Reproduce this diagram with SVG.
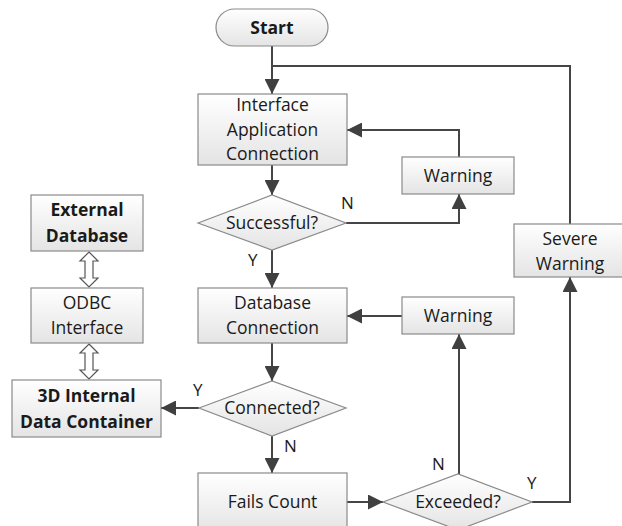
<svg xmlns="http://www.w3.org/2000/svg" width="622" height="526" viewBox="0 0 622 526">
  <defs>
    <linearGradient id="boxFill" x1="0" y1="0" x2="0" y2="1">
      <stop offset="0" stop-color="#ffffff"/>
      <stop offset="1" stop-color="#e4e4e4"/>
    </linearGradient>
    <marker id="arrow" viewBox="0 0 10 10" refX="10" refY="5" markerWidth="15" markerHeight="15" markerUnits="userSpaceOnUse" orient="auto">
      <path d="M0,0 L10,5 L0,10 z" fill="#404040"/>
    </marker>
    <style>
      .box { fill: url(#boxFill); stroke: #8a8a8a; stroke-width: 1.2; }
      .link { fill: none; stroke: #454545; stroke-width: 2; }
      .hollow { fill: #ffffff; stroke: #555555; stroke-width: 1.2; }
      text { font-family: "Open Sans", "Liberation Sans", sans-serif; font-size: 17.5px; fill: #1a1a1a; text-anchor: middle; }
      .b { font-weight: bold; }
      .lbl { text-anchor: start; font-size: 17px; }
    </style>
  </defs>

  <!-- connectors -->
  <g id="connectors">
    <path class="link" d="M272,46 V94" marker-end="url(#arrow)"/>
    <path class="link" d="M272,66 H570 V224"/>
    <path class="link" d="M272,165 V195" marker-end="url(#arrow)"/>
    <path class="link" d="M346,223 H459 V194" marker-end="url(#arrow)"/>
    <path class="link" d="M459,157 V130 H347" marker-end="url(#arrow)"/>
    <path class="link" d="M272,250 V288" marker-end="url(#arrow)"/>
    <path class="link" d="M402,316 H347" marker-end="url(#arrow)"/>
    <path class="link" d="M272,343 V381" marker-end="url(#arrow)"/>
    <path class="link" d="M199,408 H161" marker-end="url(#arrow)"/>
    <path class="link" d="M272,436 V473" marker-end="url(#arrow)"/>
    <path class="link" d="M347,502 H383" marker-end="url(#arrow)"/>
    <path class="link" d="M459,474 V334" marker-end="url(#arrow)"/>
    <path class="link" d="M532,502 H570 V277" marker-end="url(#arrow)"/>
    <!-- hollow two-way arrows in the database column -->
    <path class="hollow" d="M89,252 L98,261 L93,261 L93,278 L98,278 L89,287 L80,278 L85,278 L85,261 L80,261 Z"/>
    <path class="hollow" d="M89,344 L98,353 L93,353 L93,370 L98,370 L89,379 L80,370 L85,370 L85,353 L80,353 Z"/>
    <!-- branch labels -->
    <text class="lbl" x="341" y="209">N</text>
    <text class="lbl" x="248" y="266">Y</text>
    <text class="lbl" x="193" y="396">Y</text>
    <text class="lbl" x="284" y="452">N</text>
    <text class="lbl" x="432" y="470">N</text>
    <text class="lbl" x="527" y="489">Y</text>
  </g>

  <g id="start">
    <rect class="box" x="216" y="9" width="112" height="37" rx="18.5"/>
    <text class="b" x="272" y="34">Start</text>
  </g>

  <g id="interface-app">
    <rect class="box" x="198" y="94" width="149" height="71"/>
    <text x="272.5" y="111">Interface</text>
    <text x="272.5" y="136">Application</text>
    <text x="272.5" y="160">Connection</text>
  </g>

  <g id="warning-1">
    <rect class="box" x="402" y="157" width="112" height="37"/>
    <text x="458" y="182">Warning</text>
  </g>

  <g id="successful">
    <polygon class="box" points="198,223 272,195 346,223 272,250"/>
    <text x="272" y="229">Successful?</text>
  </g>

  <g id="severe-warning">
    <rect class="box" x="514" y="224" width="112" height="53"/>
    <text x="570" y="245">Severe</text>
    <text x="570" y="270">Warning</text>
  </g>

  <g id="db-connection">
    <rect class="box" x="198" y="288" width="149" height="55"/>
    <text x="272.5" y="309">Database</text>
    <text x="272.5" y="334">Connection</text>
  </g>

  <g id="warning-2">
    <rect class="box" x="402" y="297" width="112" height="37"/>
    <text x="458" y="322">Warning</text>
  </g>

  <g id="connected">
    <polygon class="box" points="199,408 272,381 346,408 272,436"/>
    <text x="272" y="414">Connected?</text>
  </g>

  <g id="fails-count">
    <rect class="box" x="198" y="473" width="149" height="60"/>
    <text x="272.5" y="508">Fails Count</text>
  </g>

  <g id="exceeded">
    <polygon class="box" points="383,502 458,474 532,502 458,530"/>
    <text x="458" y="508">Exceeded?</text>
  </g>

  <g id="external-db">
    <rect class="box" x="31" y="195" width="112" height="56"/>
    <text class="b" x="87" y="216">External</text>
    <text class="b" x="87" y="242">Database</text>
  </g>

  <g id="odbc">
    <rect class="box" x="31" y="288" width="112" height="55"/>
    <text x="87" y="309">ODBC</text>
    <text x="87" y="334">Interface</text>
  </g>

  <g id="internal-container">
    <rect class="box" x="12" y="380" width="149" height="57"/>
    <text class="b" x="86.5" y="402">3D Internal</text>
    <text class="b" x="86.5" y="428">Data Container</text>
  </g>
</svg>
